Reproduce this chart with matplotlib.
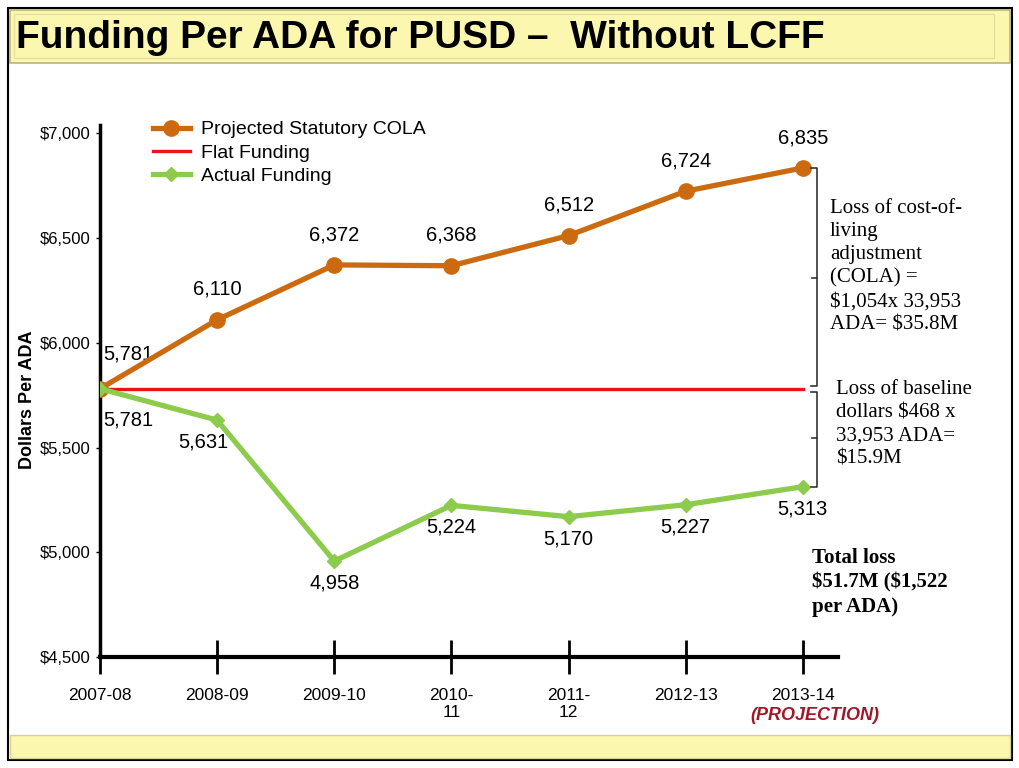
import matplotlib
matplotlib.use("Agg")
import matplotlib.pyplot as plt
from matplotlib.patches import Rectangle

# === DATA ===
years = ["2007-08", "2008-09", "2009-10", "2010-\n11", "2011-\n12", "2012-13", "2013-14"]
cola = [5781, 6110, 6372, 6368, 6512, 6724, 6835]
actual = [5781, 5631, 4958, 5224, 5170, 5227, 5313]
flat = [5781] * len(years)
yticks = [4500, 5000, 5500, 6000, 6500, 7000]

ORANGE = "#CC6A10"
GREEN = "#8CCB4C"
RED = "#E8141C"
BAND = "#FBF7AF"

plt.rcParams['font.family'] = ['Liberation Sans', 'DejaVu Sans']

fig = plt.figure(figsize=(10.19, 7.68), dpi=100)

# --- slide background (pixel coords) ---
bg = fig.add_axes([0, 0, 1, 1], zorder=0)
bg.set_xlim(0, 1019)
bg.set_ylim(768, 0)
bg.axis('off')
bg.add_patch(Rectangle((8, 8), 1004, 752, facecolor='white', edgecolor='black', lw=1.5))
bg.add_patch(Rectangle((10, 10), 1000, 53, facecolor=BAND, edgecolor='#B8B480', lw=1.2))
bg.add_patch(Rectangle((14, 14), 980, 44, facecolor='none', edgecolor='#E2DD9A', lw=0.8))
bg.add_patch(Rectangle((10, 735), 1000, 23, facecolor=BAND, edgecolor='#D6D296', lw=1.0))
bg.text(16, 38, "Funding Per ADA for PUSD \u2013  Without LCFF", fontsize=28, fontweight='bold',
        va='center', ha='left', parse_math=False)
bg.text(28, 400, "Dollars Per ADA", rotation=90, fontsize=13, fontweight='bold', va='center', ha='center')
bg.text(815, 715, "(PROJECTION)", fontsize=13, fontweight='bold', style='italic',
        color='#A01828', va='center', ha='center')

# --- main chart ---
ax = fig.add_axes([100 / 1019, 1 - 657 / 768, 738 / 1019, 532 / 768], zorder=2)
ax.set_facecolor('none')
x = list(range(len(years)))

ax.plot(x, cola, color=ORANGE, lw=3.8, marker='o', ms=11, mfc=ORANGE, mec=ORANGE,
        label='Projected Statutory COLA', zorder=4)
ax.plot(x, flat, color=RED, lw=2.4, label='Flat Funding', zorder=3)
ax.plot(x, actual, color=GREEN, lw=3.8, marker='D', ms=7, mfc=GREEN, mec=GREEN,
        label='Actual Funding', zorder=4)

for i, v in enumerate(cola):
    ha = 'left' if i == 0 else 'center'
    dy = 18 if i == 0 else 15
    ax.annotate(f"{v:,}", (i, v), xytext=(2 if i == 0 else 0, dy), textcoords='offset points',
                ha=ha, va='bottom', fontsize=14.5)
for i, v in enumerate(actual):
    ha = 'left' if i == 0 else 'center'
    dx = 2 if i == 0 else (-10 if i == 1 else 0)
    dy = -16 if i == 0 else -9
    ax.annotate(f"{v:,}", (i, v), xytext=(dx, dy), textcoords='offset points',
                ha=ha, va='top', fontsize=14.5)

ax.set_xlim(0, 6.3)
ax.set_ylim(4500, 7040)
ax.set_yticks(yticks)
ax.set_yticklabels([f"${t:,}" for t in yticks], fontsize=12)
ax.set_xticks(x)
ax.set_xticklabels(years, fontsize=12.5, va='top')
ax.tick_params(axis='y', length=3, width=1, pad=4)
ax.tick_params(axis='x', direction='inout', length=24, width=2, pad=10)
for s in ['top', 'right']:
    ax.spines[s].set_visible(False)
ax.spines['left'].set_linewidth(2.5)
ax.spines['bottom'].set_linewidth(3)

# --- brackets ---
bx = x[-1] + 0.12
bkw = dict(color='#333333', lw=1.2, clip_on=False, zorder=5)
ax.plot([bx - 0.05, bx, bx, bx - 0.05], [cola[-1], cola[-1], flat[-1] + 15, flat[-1] + 15], **bkw)
mid1 = (cola[-1] + flat[-1]) / 2
ax.plot([bx, bx - 0.04], [mid1, mid1], **bkw)
ax.plot([bx - 0.05, bx, bx, bx - 0.05], [flat[-1] - 15, flat[-1] - 15, actual[-1], actual[-1]], **bkw)
mid2 = (flat[-1] + actual[-1]) / 2
ax.plot([bx, bx - 0.04], [mid2, mid2], **bkw)

serif = ['Liberation Serif', 'DejaVu Serif']
bg.text(830, 199, "Loss of cost-of-\nliving\nadjustment\n(COLA) =\n$1,054x 33,953\nADA= $35.8M",
        family=serif, fontsize=15, va='top', ha='left', linespacing=1.3, parse_math=False)
bg.text(836, 380, "Loss of baseline\ndollars $468 x\n33,953 ADA=\n$15.9M",
        family=serif, fontsize=15, va='top', ha='left', linespacing=1.3, parse_math=False)
bg.text(812, 548, "Total loss\n$51.7M ($1,522\nper ADA)",
        family=serif, fontsize=15, fontweight='bold', va='top', ha='left', linespacing=1.3,
        parse_math=False)

ax.legend(loc='upper left', bbox_to_anchor=(143 / 1019, 1 - 111 / 768), bbox_transform=fig.transFigure,
          frameon=False, fontsize=14, handlelength=1.9, labelspacing=0.3, borderpad=0, handletextpad=0.6)

fig.savefig("out.png", dpi=100)
